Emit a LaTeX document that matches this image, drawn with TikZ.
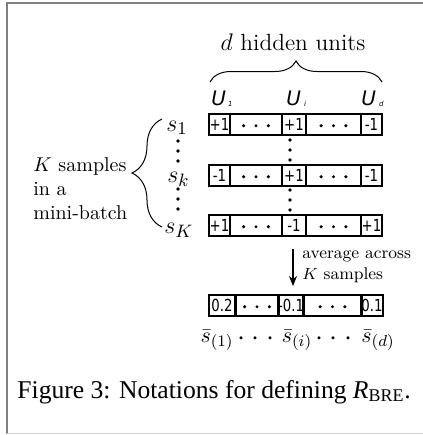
\documentclass[tikz,border=0pt]{standalone}
\usepackage{fontspec}
\newfontfamily\djv{DejaVu Sans}
\newfontfamily\djvc[FakeStretch=0.8]{DejaVu Sans}
\newfontfamily\tms{Liberation Serif}
\usetikzlibrary{decorations.pathreplacing,arrows.meta}
\tikzset{
  cell/.style={draw, line width=1pt, rectangle, inner sep=0pt, minimum height=10.5pt,
    font=\djvc\fontsize{8.3}{9}\selectfont},
  ulab/.style={anchor=base west, inner sep=0pt, font=\djv\itshape\fontsize{10}{12}\selectfont},
  slab/.style={anchor=base west, inner sep=0pt, font=\fontsize{13}{15}\selectfont},
  blab/.style={anchor=base, inner sep=0pt, font=\fontsize{11}{13}\selectfont},
  bdots/.style={anchor=base, inner sep=0pt, font=\fontsize{14}{16}\selectfont},
  bracestyle/.style={decorate, line width=0.5pt},
  arr/.style={-{Stealth[length=5pt,width=4pt]}, line width=0.6pt},
}
\newcommand\dotsh[1]{\fill ([xshift=-6.2pt,yshift=-0.6pt]#1.center) circle (0.85pt)
  ([yshift=-0.6pt]#1.center) circle (0.85pt)
  ([xshift=6.2pt,yshift=-0.6pt]#1.center) circle (0.85pt);}
\newcommand\dotsv[2]{\fill (#1,#2) circle (0.9pt) (#1,#2+10) circle (0.9pt) (#1,#2+20) circle (0.9pt);}
\newcommand\cellrow[5]{%
  \node[cell, minimum width=10.5pt] (#1a) at (219.5,#2) {#3};
  \node[cell, minimum width=26pt]   (#1b) at (256,#2) {};
  \node[cell, minimum width=12pt]   (#1c) at (294,#2) {#4};
  \node[cell, minimum width=27.5pt] (#1d) at (333.5,#2) {};
  \node[cell, minimum width=10.5pt] (#1e) at (371.5,#2) {#5};
  \dotsh{#1b}\dotsh{#1d}}
\newcommand\threedots{$\cdotp\kern0.7pt\cdotp\kern0.7pt\cdotp$}
\begin{document}
\begin{tikzpicture}[x=0.5pt,y=-0.5pt]
\useasboundingbox (0,0) rectangle (423,435);
% page frame
\draw[line width=1pt, black!50] (423,3) -- (7,3) -- (7,434);
\draw[line width=0.5pt, black!18] (7,433) -- (423,433);

% title and top brace
\node[anchor=base, inner sep=0pt, font=\fontsize{11.7}{14}\selectfont] (title) at (293,50) {$d$ hidden units};
\coordinate (bl) at (210,82);
\coordinate (br) at (382,82);
\draw[bracestyle, decoration={brace, amplitude=10.5pt}] (bl) -- (br);

% unit labels
\node[ulab] (u1) at (211,105) {U\kern1pt\raisebox{-0.6pt}{\fontsize{3.5}{4}\selectfont 1}};
\node[ulab] (ui) at (286,105) {U\kern1.5pt\raisebox{-0.6pt}{\fontsize{3.5}{4}\selectfont i}};
\node[ulab] (ud) at (361,105) {U\kern1.5pt\raisebox{-0.6pt}{\fontsize{3.5}{4}\selectfont d}};

% rows
\cellrow{r}{124.5}{+1}{+1}{-1}
\cellrow{k}{175.5}{-1}{+1}{-1}
\cellrow{q}{225.5}{+1}{-1}{+1}
\dotsv{290}{140}
\dotsv{290}{190}

% sample labels
\node[slab] (s1) at (166,131) {$s_1$};
\node[slab] (sk) at (167,182) {$s_k$};
\node[slab] (sK) at (164,233) {$s_K$};
\dotsv{178}{141}
\dotsv{178}{189}
\coordinate (lb) at (162,227);
\coordinate (lt) at (162,119);
\draw[bracestyle, decoration={brace, amplitude=15pt}] (lb) -- (lt);
\node[anchor=north west, align=left, inner sep=0pt, font=\fontsize{10}{12}\selectfont] (ksamp) at (33,157)
  {$K$ samples\\in a\\mini-batch};

% averaging
\node[cell, minimum width=13pt]   (aa) at (222,305.5) {0.2};
\node[cell, minimum width=21.5pt] (ab) at (257,305.5) {};
\node[cell, minimum width=12.5pt] (ac) at (291,305.5) {-0.1};
\node[cell, minimum width=29.5pt] (ad) at (332.5,305.5) {};
\node[cell, minimum width=10pt]   (ae) at (372,305.5) {0.1};
\dotsh{ab}\dotsh{ad}
\draw[arr, shorten <=6pt, shorten >=4pt] ([xshift=-0.5pt]qc.south) -- ([xshift=-0.5pt]qc.south |- ac.north);
\node[anchor=north west, align=left, inner sep=0pt, font=\fontsize{8.5}{10.5}\selectfont] (avg) at (302,250)
  {average across\\$K$ samples};

% bottom labels
\node[blab] (b1) at (217,342) {$\bar{s}_{(1)}$};
\node[bdots] (bd1) at (256,345) {\threedots};
\node[blab] (bi) at (297,342) {$\bar{s}_{(i)}$};
\node[bdots] (bd2) at (334,345) {\threedots};
\node[blab] (bd) at (378,342) {$\bar{s}_{(d)}$};

% caption
\node[anchor=base west, inner sep=0pt, font=\tms\fontsize{12.8}{15}\selectfont] (cap) at (17,398)
  {Figure 3: Notations for defining \textit{R}\textsubscript{BRE}.};
\end{tikzpicture}
\end{document}
